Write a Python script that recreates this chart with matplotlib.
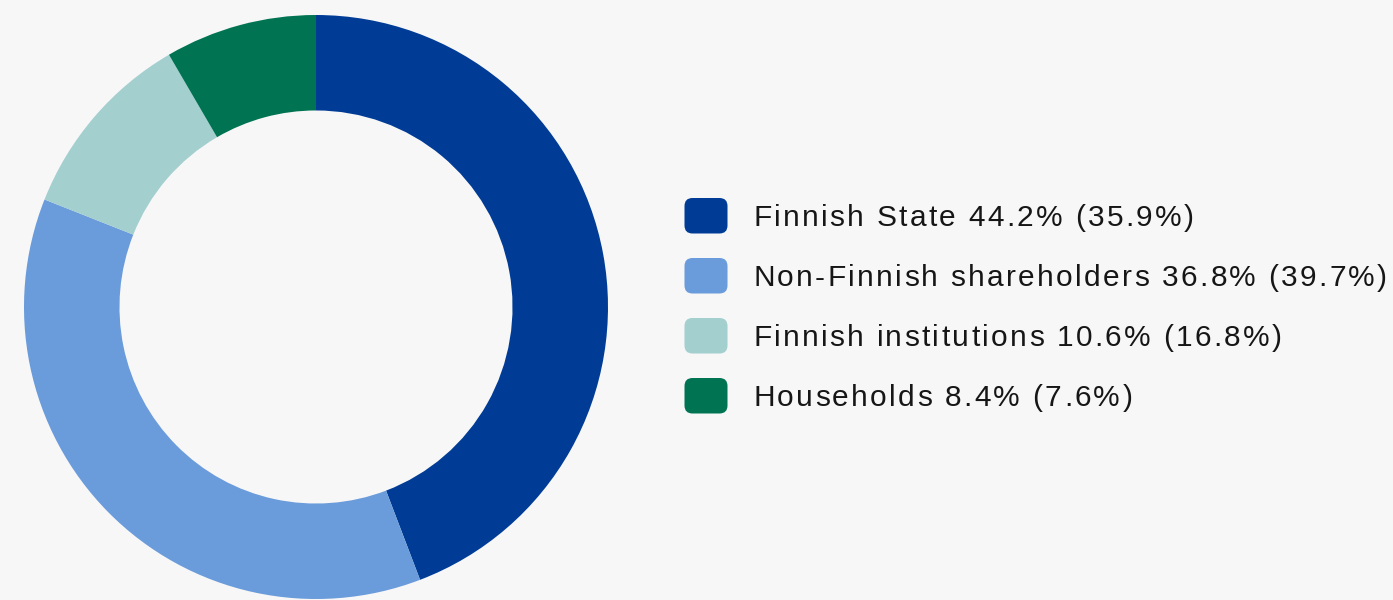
import matplotlib.pyplot as plt
from matplotlib.patches import FancyBboxPatch

labels = ['Finnish State', 'Non-Finnish shareholders', 'Finnish institutions', 'Households']
shares = [44.2, 36.8, 10.6, 8.4]
prev_shares = [35.9, 39.7, 16.8, 7.6]
colors = ['#003c96', '#6a9bdb', '#a3cfcf', '#007452']
bg = '#f7f7f7'

W, H = 1393, 600
fig = plt.figure(figsize=(W / 100, H / 100), dpi=100, facecolor=bg)

# donut: centre (316, 307) px, outer radius 292 px
cx, cy, r = 316, 307, 292
ax = fig.add_axes([(cx - r) / W, (H - cy - r) / H, 2 * r / W, 2 * r / H])
ax.set_facecolor(bg)
ax.pie(shares, colors=colors, startangle=90, counterclock=False, radius=1,
       wedgeprops=dict(width=0.327, linewidth=0))
ax.set_xlim(-1, 1)
ax.set_ylim(-1, 1)
ax.set_aspect('equal')
ax.axis('off')

renderer = fig.canvas.get_renderer()
font = dict(fontsize=21.5, family='Liberation Sans', color='#161616')
track = 2.3  # extra px between letters


def text_w(s):
    t = fig.text(0, 0, s + 'x', **font)
    w = t.get_window_extent(renderer).width
    t.remove()
    return w


wx = text_w('')

# legend
row_y = [216, 276, 336, 396]
for lab, s, p, c, y in zip(labels, shares, prev_shares, colors, row_y):
    box = FancyBboxPatch((684.5, H - y - 17.5), 43, 35.5,
                         boxstyle='round,pad=0,rounding_size=8', transform=None,
                         facecolor=c, edgecolor='none')
    fig.patches.append(box)
    txt = f'{lab} {s}% ({p}%)'
    for i, ch in enumerate(txt):
        if ch == ' ':
            continue
        x = 753 + text_w(txt[:i]) - wx + i * track
        fig.text(x / W, (H - y - 10.5) / H, ch, va='baseline', ha='left', **font)

fig.savefig('out.png', dpi=100, facecolor=bg)
